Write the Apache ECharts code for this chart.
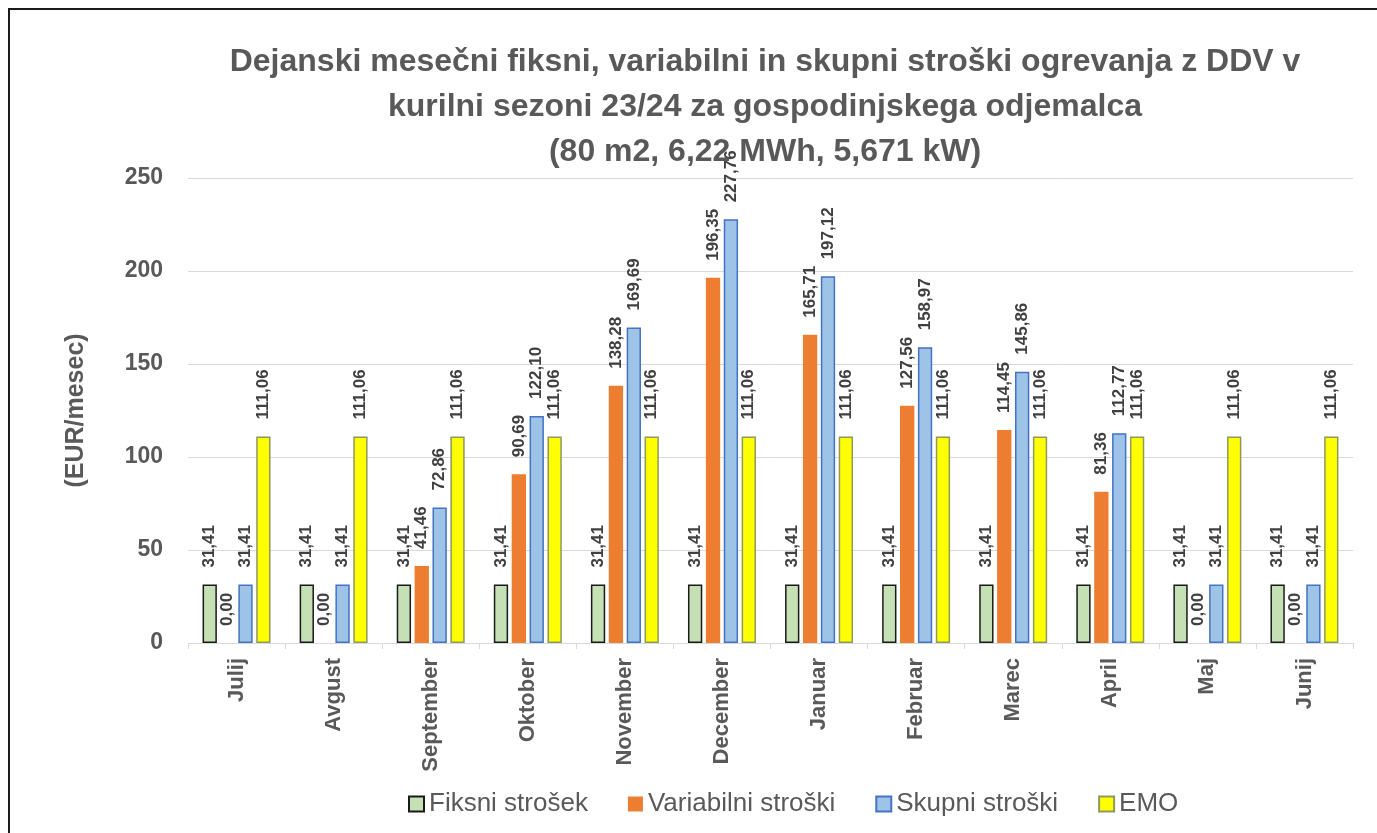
<!DOCTYPE html>
<html>
<head>
<meta charset="utf-8">
<script src="https://cdn.jsdelivr.net/npm/echarts@6/dist/echarts.min.js"></script>
<style>
html,body{margin:0;padding:0;background:#fff;}
#chart{width:1377px;height:833px;}
</style>
</head>
<body>
<div id="chart"></div>
<script>
const categories = ['Julij','Avgust','September','Oktober','November','December','Januar','Februar','Marec','April','Maj','Junij'];
const fiksni = [31.41,31.41,31.41,31.41,31.41,31.41,31.41,31.41,31.41,31.41,31.41,31.41];
const variabilni = [0,0,41.46,90.69,138.28,196.35,165.71,127.56,114.45,81.36,0,0];
const skupni = [31.41,31.41,72.86,122.10,169.69,227.76,197.12,158.97,145.86,112.77,31.41,31.41];
const emo = [111.06,111.06,111.06,111.06,111.06,111.06,111.06,111.06,111.06,111.06,111.06,111.06];
const seriesNames = ['Fiksni strošek','Variabilni stroški','Skupni stroški','EMO'];
const titleText = 'Dejanski mesečni fiksni, variabilni in skupni stroški ogrevanja z DDV v\nkurilni sezoni 23/24 za gospodinjskega odjemalca\n(80 m2, 6,22 MWh, 5,671 kW)';

const FONT = '"Liberation Sans", Arial, sans-serif';
const fmt = v => v.toFixed(2).replace('.', ',');

const labelOpt = {
  show: true,
  position: 'top',
  rotate: 90,
  align: 'left',
  verticalAlign: 'middle',
  distance: 17,
  fontFamily: FONT,
  fontWeight: 'bold',
  fontSize: 17,
  color: '#404040',
  formatter: p => fmt(p.value)
};

const styles = [
  {color:'#C5E0B4', borderColor:'#1a1a1a', borderWidth:1.5},
  {color:'#ED7D31', borderColor:'#ED7D31', borderWidth:0},
  {color:'#9DC3E6', borderColor:'#4472C4', borderWidth:1.5},
  {color:'#FFFF00', borderColor:'#8c9a5c', borderWidth:1.5}
];
const dataSets = [fiksni, variabilni, skupni, emo];

const chart = echarts.init(document.getElementById('chart'), null, {renderer:'canvas'});
chart.setOption({
  backgroundColor: '#fff',
  animation: false,
  title: {
    text: titleText,
    left: 765,
    top: 40,
    textAlign: 'center',
    padding: 0,
    textStyle: {
      fontFamily: FONT,
      fontWeight: 'bold',
      fontSize: 32,
      lineHeight: 45,
      color: '#595959'
    }
  },
  legend: {
    bottom: 11,
    left: 403,
    itemWidth: 15,
    itemHeight: 15,
    itemGap: 40,
    icon: 'rect',
    textStyle: {fontFamily: FONT, fontSize: 26, color: '#595959'},
    data: seriesNames
  },
  graphic: [{
    type: 'polyline',
    shape: {points: [[9, 900], [9, 9], [1400, 9]]},
    style: {stroke: '#1a1a1a', lineWidth: 2, fill: null},
    silent: true
  }],
  grid: {left: 188, right: 24, top: 178, bottom: 190, containLabel: false},
  xAxis: {
    type: 'category',
    data: categories,
    axisLine: {lineStyle: {color: '#d9d9d9', width: 1}},
    axisTick: {show: true, length: 6, lineStyle: {color: '#d9d9d9'}},
    axisLabel: {
      rotate: 90,
      margin: 15,
      fontFamily: FONT,
      fontWeight: 'bold',
      fontSize: 22,
      color: '#595959'
    }
  },
  yAxis: {
    type: 'value',
    min: 0,
    max: 250,
    interval: 50,
    name: '(EUR/mesec)',
    nameLocation: 'middle',
    nameRotate: 90,
    nameGap: 99,
    nameTextStyle: {fontFamily: FONT, fontWeight: 'bold', fontSize: 25, color: '#595959'},
    axisLine: {show: false},
    axisTick: {show: false},
    axisLabel: {margin: 25, fontFamily: FONT, fontWeight: 'bold', fontSize: 23, color: '#595959'},
    splitLine: {lineStyle: {color: '#d9d9d9', width: 1}}
  },
  series: seriesNames.map((name, i) => ({
    name: name,
    type: 'bar',
    data: dataSets[i],
    barGap: '25%',
    barCategoryGap: '30%',
    itemStyle: styles[i],
    label: labelOpt
  }))
});
</script>
</body>
</html>
